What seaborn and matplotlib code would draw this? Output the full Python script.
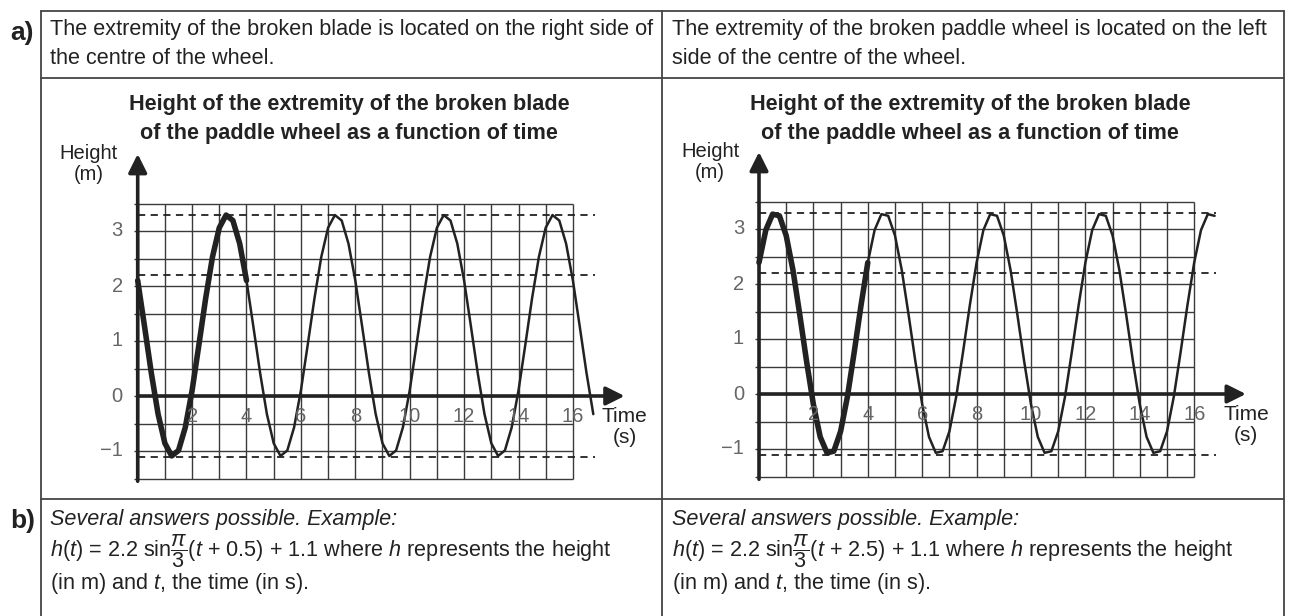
import numpy as np
import pandas as pd
import matplotlib
matplotlib.use("Agg")
import matplotlib.pyplot as plt
import seaborn as sns

# heights (m) of the blade tip, every 0.25 s
time_s = np.arange(0, 16.76, 0.25)

height_right_side = [
    2.10, 1.27, 0.42, -0.33, -0.86, -1.09, -0.99, -0.57, 0.10, 0.93, 1.78, 2.53, 3.06, 3.29, 3.19, 2.77,
    2.10, 1.27, 0.42, -0.33, -0.86, -1.09, -0.99, -0.57, 0.10, 0.93, 1.78, 2.53, 3.06, 3.29, 3.19, 2.77,
    2.10, 1.27, 0.42, -0.33, -0.86, -1.09, -0.99, -0.57, 0.10, 0.93, 1.78, 2.53, 3.06, 3.29, 3.19, 2.77,
    2.10, 1.27, 0.42, -0.33, -0.86, -1.09, -0.99, -0.57, 0.10, 0.93, 1.78, 2.53, 3.06, 3.29, 3.19, 2.77,
    2.10, 1.27, 0.42, -0.33,
]
height_left_side = [
    2.39, 2.98, 3.27, 3.24, 2.88, 2.25, 1.44, 0.59, -0.19, -0.78, -1.07, -1.04, -0.68, -0.05, 0.76, 1.61,
    2.39, 2.98, 3.27, 3.24, 2.88, 2.25, 1.44, 0.59, -0.19, -0.78, -1.07, -1.04, -0.68, -0.05, 0.76, 1.61,
    2.39, 2.98, 3.27, 3.24, 2.88, 2.25, 1.44, 0.59, -0.19, -0.78, -1.07, -1.04, -0.68, -0.05, 0.76, 1.61,
    2.39, 2.98, 3.27, 3.24, 2.88, 2.25, 1.44, 0.59, -0.19, -0.78, -1.07, -1.04, -0.68, -0.05, 0.76, 1.61,
    2.39, 2.98, 3.27, 3.24,
]
first_turn_end = 4          # first period drawn thicker
ref_levels = [3.3, 2.2, -1.1]   # max, start height, min
x_tick_labels = [2, 4, 6, 8, 10, 12, 14, 16]
y_tick_labels = [3, 2, 1, 0, -1]

title = "Height of the extremity of the broken blade\nof the paddle wheel as a function of time"
row_a = ["The extremity of the broken blade is located on the right side of\nthe centre of the wheel.",
         "The extremity of the broken paddle wheel is located on the left\nside of the centre of the wheel."]
row_b_shift = ["0.5", "2.5"]

sns.set_style("white")
plt.rcParams["font.family"] = ["Liberation Sans", "DejaVu Sans"]
plt.rcParams["mathtext.fontset"] = "custom"
plt.rcParams["mathtext.rm"] = "Liberation Sans"
plt.rcParams["mathtext.it"] = "Liberation Sans:italic"

ink = "#222222"
body_size = 15.6
W, H = 1292, 616
fig = plt.figure(figsize=(W / 100, H / 100), dpi=100)

# page layer in pixels, for the table frame and text
bg = fig.add_axes([0, 0, 1, 1])
bg.set_xlim(0, W)
bg.set_ylim(H, 0)
bg.axis("off")

frame = dict(color="#444444", lw=1.3)
for yy in [11, 78, 499]:
    bg.plot([41, 1284], [yy, yy], **frame)
for xx in [41, 662, 1284]:
    bg.plot([xx, xx], [11, H], **frame)

bg.text(10, 33, "a)", fontsize=19, fontweight="bold", color=ink, va="center")
bg.text(10, 521, "b)", fontsize=19, fontweight="bold", color=ink, va="center")

for col, x_text in enumerate([50, 672]):
    bg.text(x_text, 44, row_a[col], fontsize=body_size, color=ink, va="center", linespacing=1.5)
    bg.text(x_text, 520, "Several answers possible. Example:", fontsize=body_size, color=ink,
            style="italic", va="center")
    bg.text(x_text, 551, r"$h(t)$ = 2.2 sin$\dfrac{\pi}{3}$($t$ + " + row_b_shift[col]
            + r") + 1.1 where $h$ represents the height", fontsize=body_size, color=ink,
            va="center")
    bg.text(x_text, 583, r"(in m) and $t$, the time (in s).", fontsize=body_size, color=ink,
            va="center")


def draw_graph(ax, heights):
    df = pd.DataFrame({"time": time_s, "height": heights})
    ax.set_xlim(-3, 18.5)
    ax.set_ylim(-1.7, 4.7)
    ax.axis("off")
    ax.patch.set_alpha(0)

    # graph paper
    ax.hlines(np.arange(-1.5, 3.51, 0.5), -0.15, 16, color="#3a3a3a", lw=1.0)
    ax.vlines(np.arange(0, 17), -1.5, 3.5, color="#3a3a3a", lw=1.0)
    ax.hlines(ref_levels, 0, 16.8, color=ink, lw=1.3, linestyles=(0, (4, 3)))

    sns.lineplot(data=df, x="time", y="height", ax=ax, color=ink, lw=1.8)
    sns.lineplot(data=df[df["time"] <= first_turn_end], x="time", y="height",
                 ax=ax, color=ink, lw=4)

    arrow = dict(arrowstyle="-|>", lw=2.6, color=ink, mutation_scale=28, shrinkA=0, shrinkB=0)
    ax.annotate("", xy=(17.9, 0), xytext=(0, 0), arrowprops=arrow)
    ax.annotate("", xy=(0, 4.4), xytext=(0, -1.55), arrowprops=arrow)

    for v in x_tick_labels:
        ax.text(v, -0.38, str(v), ha="center", va="center", fontsize=14.5, color="#666666")
    for v in y_tick_labels:
        ax.text(-0.55, v, str(v).replace("-", "\u2212"), ha="right", va="center",
                fontsize=14.5, color="#666666")
    ax.text(17.9, -0.2, "Time\n(s)", ha="center", va="top", fontsize=15, color=ink,
            linespacing=1.15)
    ax.text(-1.8, 4.22, "Height\n(m)", ha="center", va="center", fontsize=14.5, color=ink,
            linespacing=1.1)


def px_axes(x0, y0, x1, y1):
    return fig.add_axes([x0 / W, 1 - y1 / H, (x1 - x0) / W, (y1 - y0) / H])


ax_left = px_axes(56.1, 137.5, 640.9, 489.5)
draw_graph(ax_left, height_right_side)
ax_right = px_axes(677.4, 135.5, 1262.2, 487.5)
draw_graph(ax_right, height_left_side)

for xc in [349, 970]:
    bg.text(xc, 119, title, ha="center", va="center", fontsize=15.6, fontweight="bold",
            color=ink, linespacing=1.45)

fig.savefig("out.png", dpi=100)
